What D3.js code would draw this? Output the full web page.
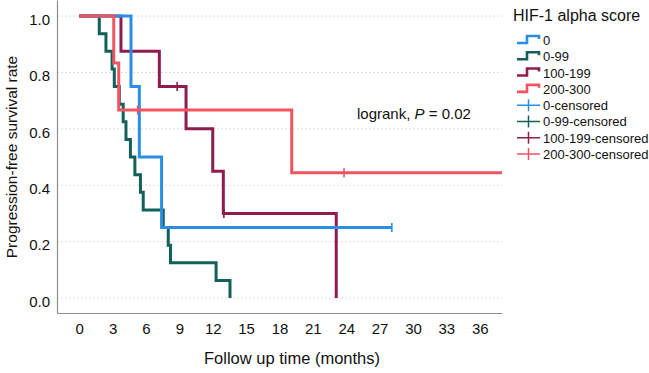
<!DOCTYPE html>
<html>
<head>
<meta charset="utf-8">
<script src="https://cdn.jsdelivr.net/npm/d3@7"></script>
<style>
  body { margin: 0; background: white; }
  text { font-family: "Liberation Sans", Arial, sans-serif; }
</style>
</head>
<body>
<div id="container"></div>
<script>
// values
let groupNames = ["0", "0-99", "100-199", "200-300"];
let groupColors = ["#2a8fe2", "#12605a", "#8e1c4e", "#ef5460"];

// step points: time (months) and survival after that time
let blueTime = [0, 4.65, 5.4, 7.4, 28.1];
let blueSurv = [1, 0.75, 0.5, 0.25, 0.25];
let blueCensTime = [28.1];
let blueCensSurv = [0.25];

let greenTime = [0, 1.8, 2.4, 2.95, 3.15, 3.6, 3.95, 4.2, 4.6, 5.0, 5.5, 5.75, 7.55, 8.0, 8.2, 12.3, 13.55];
let greenSurv = [1, 0.9375, 0.875, 0.8125, 0.75, 0.6875, 0.625, 0.5625, 0.5, 0.4375, 0.375, 0.3125, 0.25, 0.1875, 0.125, 0.0625, 0];
let greenCensTime = [];
let greenCensSurv = [];

let purpleTime = [0, 3.75, 7.2, 9.6, 12.0, 12.95, 23.1];
let purpleSurv = [1, 0.875, 0.75, 0.6, 0.45, 0.3, 0];
let purpleCensTime = [8.8, 13.0];
let purpleCensSurv = [0.75, 0.3];

let redTime = [0, 3.1, 3.55, 19.1, 40];
let redSurv = [1, 0.8333, 0.6667, 0.4444, 0.4444];
let redCensTime = [5.25, 23.8];
let redCensSurv = [0.6667, 0.4444];

let xTicks = [0, 3, 6, 9, 12, 15, 18, 21, 24, 27, 30, 33, 36];
let yTicks = [0, 0.2, 0.4, 0.6, 0.8, 1.0];

let w = 649;
let h = 373;

let viz = d3.select("#container")
  .append("svg")
    .attr("width", w)
    .attr("height", h)
;

let xScale = d3.scaleLinear().domain([-2, 38]).range([57, 502]);
let yScale = d3.scaleLinear().domain([-0.053, 1.057]).range([313, 0]);

// gridlines
viz.append("g").attr("class", "grid")
  .selectAll("line").data(yTicks).enter()
  .append("line")
    .attr("x1", xScale(-2))
    .attr("x2", xScale(38))
    .attr("y1", d => yScale(d))
    .attr("y2", d => yScale(d))
    .attr("stroke", "#e4dfd2")
    .attr("stroke-width", 1)
    .attr("stroke-dasharray", "2,2")
;

// axes
let xAxis = d3.axisBottom(xScale).tickValues(xTicks).tickSize(0).tickPadding(10).tickFormat(d3.format("d"));
let xAxisGroup = viz.append("g").attr("class", "xaxis")
  .attr("transform", "translate(0," + yScale(-0.053) + ")")
  .call(xAxis);

let yAxis = d3.axisLeft(yScale).tickValues(yTicks).tickSize(0).tickPadding(7).tickFormat(d3.format(".1f"));
let yAxisGroup = viz.append("g").attr("class", "yaxis")
  .attr("transform", "translate(" + xScale(-2) + ",0)")
  .call(yAxis);

viz.selectAll(".xaxis .domain, .yaxis .domain").attr("stroke", "#8c8c8c").attr("stroke-width", 1.2);
viz.selectAll(".xaxis text, .yaxis text")
  .attr("font-size", 15)
  .attr("fill", "#111")
  .style("font-family", "'Liberation Sans', Arial, sans-serif");
viz.selectAll(".yaxis text").attr("dy", "0.55em");

// axis titles
viz.append("text")
  .attr("x", 292)
  .attr("y", 364)
  .attr("text-anchor", "middle")
  .attr("font-size", 16.5)
  .attr("fill", "#111")
  .text("Follow up time (months)");

viz.append("text")
  .attr("transform", "translate(17,157) rotate(-90)")
  .attr("text-anchor", "middle")
  .attr("font-size", 15.5)
  .attr("fill", "#111")
  .text("Progression-free survival rate");

// logrank text
let lr = viz.append("text")
  .attr("x", 357)
  .attr("y", 119)
  .attr("font-size", 15)
  .attr("fill", "#111");
lr.append("tspan").text("logrank, ");
lr.append("tspan").attr("font-style", "italic").text("P");
lr.append("tspan").text(" = 0.02");

// curves
viz.append("clipPath").attr("id", "plotclip")
  .append("rect")
    .attr("x", xScale(-2))
    .attr("y", 0)
    .attr("width", xScale(38) - xScale(-2))
    .attr("height", yScale(-0.053));

let series = [
  {name: "0-99", color: groupColors[1], time: greenTime, surv: greenSurv, ct: greenCensTime, cs: greenCensSurv},
  {name: "100-199", color: groupColors[2], time: purpleTime, surv: purpleSurv, ct: purpleCensTime, cs: purpleCensSurv},
  {name: "0", color: groupColors[0], time: blueTime, surv: blueSurv, ct: blueCensTime, cs: blueCensSurv},
  {name: "200-300", color: groupColors[3], time: redTime, surv: redSurv, ct: redCensTime, cs: redCensSurv}
];

let stepLine = d3.line()
  .x(d => xScale(d[0]))
  .y(d => yScale(d[1]))
  .curve(d3.curveStepAfter);

let curveGroup = viz.append("g").attr("clip-path", "url(#plotclip)");

series.forEach(function(s) {
  let pts = s.time.map((t, i) => [t, s.surv[i]]);
  curveGroup.append("path")
    .attr("d", stepLine(pts))
    .attr("fill", "none")
    .attr("stroke", s.color)
    .attr("stroke-width", 3);

  let cens = s.ct.map((t, i) => [t, s.cs[i]]);
  curveGroup.selectAll(null).data(cens).enter()
    .append("line")
      .attr("x1", d => xScale(d[0]))
      .attr("x2", d => xScale(d[0]))
      .attr("y1", d => yScale(d[1]) - 4.5)
      .attr("y2", d => yScale(d[1]) + 4.5)
      .attr("stroke", s.color)
      .attr("stroke-width", 1.6);
});

// legend
let legend = viz.append("g").attr("class", "legend");
legend.append("text")
  .attr("x", 513)
  .attr("y", 21)
  .attr("font-size", 16)
  .attr("fill", "#111")
  .text("HIF-1 alpha score");

let legendRows = groupNames.map((n, i) => ({label: n, color: groupColors[i], kind: "step"}))
  .concat(groupNames.map((n, i) => ({label: n + "-censored", color: groupColors[i], kind: "cross"})));

let rowY = d3.scaleLinear().domain([0, 7]).range([40, 154]);

legendRows.forEach(function(r, i) {
  let y = rowY(i);
  if (r.kind == "step") {
    legend.append("path")
      .attr("d", "M517," + (y + 3) + " H527 V" + (y - 4) + " H539 V" + (y - 1))
      .attr("fill", "none")
      .attr("stroke", r.color)
      .attr("stroke-width", 2.6);
  } else {
    legend.append("path")
      .attr("d", "M517," + y + " H540 M528.5," + (y - 6) + " V" + (y + 6))
      .attr("fill", "none")
      .attr("stroke", r.color)
      .attr("stroke-width", 1.5);
  }
  legend.append("text")
    .attr("x", 543)
    .attr("y", y + 5)
    .attr("font-size", 13)
    .attr("fill", "#111")
    .text(r.label);
});
</script>
</body>
</html>
